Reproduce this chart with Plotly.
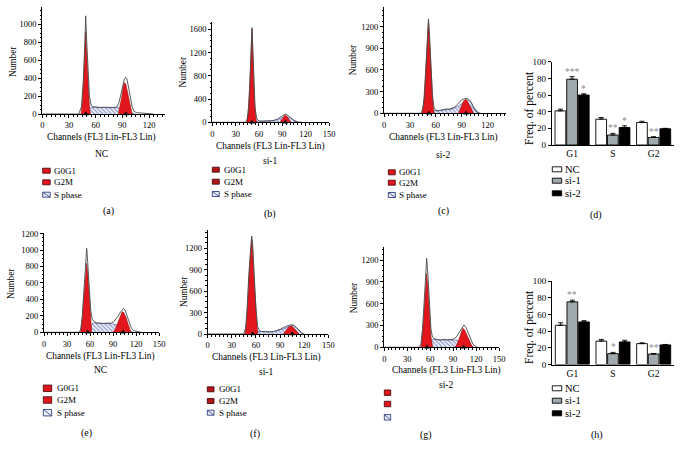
import plotly.graph_objects as go

W, H = 684, 457
SERIF = "Liberation Serif"

# ------------------------------------------------------------------ data
# (a) NC, first experiment
a_out_x = [0, 41, 44, 46, 47.5, 48.8, 50, 51.5, 53, 55, 57, 60, 65, 70, 75, 80, 84, 86, 88, 90, 92, 93.7, 95, 97, 99, 101, 103, 106, 110, 115, 120, 125]
a_out_y = [0, 0, 80, 350, 700, 1093, 800, 450, 200, 95, 80, 78, 72, 75, 70, 72, 80, 120, 200, 300, 380, 409, 395, 300, 180, 80, 30, 15, 12, 8, 3, 0]
a_g0_x = [43.5, 45, 46.5, 48, 48.8, 50, 51.5, 53, 54]
a_g0_y = [0, 120, 400, 760, 918, 650, 330, 90, 0]
a_g2_x = [85.5, 87, 89, 91, 92.3, 94, 96, 98, 100, 101]
a_g2_y = [0, 60, 170, 300, 350, 330, 240, 130, 30, 0]
a_s_x = [46, 50, 53, 56, 60, 70, 80, 85, 90, 95, 100, 104]
a_s_y = [0, 30, 60, 72, 75, 72, 72, 70, 55, 35, 10, 0]
a_peaks = [49, 94]

# (b) si-1, first experiment
b_out_x = [0, 43, 45, 47, 49, 50.5, 51, 52, 53.5, 55, 57, 59, 62, 66, 70, 75, 80, 84, 87, 90, 92, 94, 96, 98, 100, 103, 106, 110, 115]
b_out_y = [0, 0, 50, 300, 900, 1500, 1628, 1300, 700, 250, 70, 30, 20, 18, 20, 25, 35, 55, 85, 115, 135, 143, 130, 110, 80, 45, 20, 5, 0]
b_g0_x = [44, 46, 48, 50, 51, 52.5, 54, 56, 57]
b_g0_y = [0, 150, 600, 1350, 1600, 1000, 400, 80, 0]
b_g2_x = [87, 89, 91, 93.4, 95.5, 97.5, 99.5, 101]
b_g2_y = [0, 40, 95, 126, 110, 70, 25, 0]
b_s_x = [52, 56, 60, 66, 72, 78, 84, 88, 92, 96, 100, 104, 108, 111]
b_s_y = [0, 15, 20, 18, 22, 30, 50, 75, 90, 95, 75, 40, 12, 0]
b_peaks = [51, 94]

# (c) si-2, first experiment
c_out_x = [0, 43, 45, 47, 49, 50.5, 51.5, 52.5, 54, 56, 58, 60, 63, 66, 69, 72, 75, 78, 81, 84, 87, 90, 93, 95, 97, 99, 101, 103, 105, 108, 112]
c_out_y = [0, 0, 60, 250, 700, 1150, 1306, 1150, 650, 250, 80, 40, 35, 45, 55, 60, 55, 65, 80, 110, 150, 185, 200, 208, 200, 185, 150, 100, 55, 15, 0]
c_g0_x = [44, 46, 48, 50, 51.5, 53, 55, 57, 58]
c_g0_y = [0, 150, 550, 1050, 1260, 950, 420, 90, 0]
c_g2_x = [86.3, 88, 90, 92, 94, 95.2, 97, 99, 101, 103, 104]
c_g2_y = [0, 50, 110, 165, 190, 194, 160, 110, 55, 10, 0]
c_s_x = [50, 55, 58, 62, 66, 70, 74, 78, 82, 86, 90, 94, 98, 101, 104, 108, 110]
c_s_y = [0, 25, 35, 35, 45, 55, 55, 60, 75, 100, 130, 170, 185, 150, 80, 15, 0]
c_peaks = [52, 95]

# (e) NC, second experiment
e_out_x = [0, 46, 48, 50, 52, 54, 55.7, 57, 59, 61, 63, 65, 68, 72, 76, 80, 84, 88, 91, 94, 97, 100, 103.5, 106, 108, 111, 114, 117, 120, 123, 126]
e_out_y = [0, 0, 40, 200, 500, 850, 1020, 850, 500, 260, 160, 135, 115, 110, 108, 110, 108, 112, 130, 160, 200, 250, 291, 260, 200, 120, 50, 20, 12, 5, 0]
e_g0_x = [47.8, 50, 52, 54, 55.7, 57, 59, 61, 62.2]
e_g0_y = [0, 180, 430, 700, 838, 720, 420, 130, 0]
e_g2_x = [90.4, 93, 96, 99, 102, 104, 107, 110, 112, 113.5]
e_g2_y = [0, 40, 110, 190, 251, 240, 180, 90, 30, 0]
e_s_x = [55, 58, 61, 64, 70, 80, 88, 94, 100, 106, 112, 117]
e_s_y = [0, 40, 90, 115, 110, 108, 105, 90, 60, 35, 15, 0]
e_peaks = [57, 103]

# (f) si-1, second experiment
f_out_x = [0, 45, 47, 49, 51, 53, 54.7, 56, 58, 60, 62, 64, 67, 72, 77, 82, 87, 91, 95, 99, 102, 105, 108, 111, 114, 117, 120]
f_out_y = [0, 0, 80, 350, 800, 1200, 1372, 1250, 800, 350, 110, 50, 35, 30, 30, 35, 50, 70, 95, 115, 125, 130, 115, 80, 40, 15, 0]
f_g0_x = [46.4, 48, 50, 52, 54.7, 56, 58, 60, 62.2]
f_g0_y = [0, 120, 500, 950, 1340, 1150, 700, 280, 0]
f_g2_x = [94, 96, 99, 101, 103.2, 105, 108, 111, 113.5]
f_g2_y = [0, 30, 75, 100, 112, 105, 75, 35, 0]
f_s_x = [58, 62, 66, 72, 78, 84, 90, 96, 102, 106, 110, 114, 118]
f_s_y = [0, 30, 35, 30, 30, 38, 55, 80, 110, 120, 90, 40, 0]
f_peaks = [56, 105]

# (g) si-2, second experiment
g_out_x = [0, 46, 48, 50, 52, 54, 55.4, 57, 59, 61, 63, 66, 70, 74, 78, 82, 86, 90, 94, 97, 100, 104.2, 107, 110, 113, 116, 119, 122]
g_out_y = [0, 0, 50, 250, 600, 1000, 1223, 1000, 550, 250, 140, 115, 105, 100, 110, 100, 105, 110, 140, 190, 250, 307, 270, 190, 100, 40, 15, 0]
g_g0_x = [48, 50, 52, 54, 55.4, 57, 59, 61, 63.2]
g_g0_y = [0, 200, 500, 850, 1017, 830, 450, 150, 0]
g_g2_x = [92.5, 95, 98, 100, 102.5, 105, 108, 111, 114, 116.4]
g_g2_y = [0, 40, 120, 190, 261, 240, 170, 90, 30, 0]
g_s_x = [55, 58, 62, 66, 72, 80, 88, 94, 100, 106, 112, 118]
g_s_y = [0, 50, 100, 110, 100, 105, 105, 100, 70, 40, 15, 0]
g_peaks = [56, 104]

# bar charts
phases = ["G1", "S", "G2"]
groups = ["NC", "si-1", "si-2"]
d_nc = [41, 31, 27]
d_nc_err = [2, 2, 1.5]
d_si1 = [79, 12, 9]
d_si1_err = [3, 2, 1]
d_si2 = [60, 21, 19.5]
d_si2_err = [1.5, 2, 0.5]
d_si1_sig = ["***", "**", "**"]
d_si2_sig = ["*", "*", ""]

h_nc = [47, 28, 25]
h_nc_err = [3, 2, 1]
h_si1 = [75, 13, 12.5]
h_si1_err = [2, 1.5, 0.7]
h_si2 = [51, 27, 23.5]
h_si2_err = [1.5, 2, 0.5]
h_si1_sig = ["**", "*", "**"]
h_si2_sig = ["", "", ""]

legend_hist = ["G0G1", "G2M", "S phase"]

# ------------------------------------------------------------------ helpers
def px(x):
    return x / W


def py(y):
    return 1 - y / H


RED = "#e3161d"
RED_DARK = "#b3161a"
HATCH = "#3b4a9c"
SI1_GRAY = "#a0a9ae"

fig = go.Figure()
annotations = []
shapes = []
layout = {}


def text(x, y, s, size=9.5, angle=0, color="black", xanchor="center"):
    annotations.append(dict(
        x=px(x), y=py(y), xref="paper", yref="paper", text=s, showarrow=False,
        font=dict(family=SERIF, size=size, color=color), textangle=angle,
        xanchor=xanchor, yanchor="middle"))


def axis_common():
    return dict(showline=True, linecolor="black", linewidth=1, ticks="outside",
                ticklen=3, tickcolor="black", tickwidth=1, showgrid=False,
                zeroline=False, automargin=False,
                tickfont=dict(family=SERIF, size=8.5, color="black"))


hist_panels = [
    dict(n=1, box=(42.3, 6.7, 165, 114), xr=[0, 138], yr=[0, 1195], yd=200,
         data=(a_out_x, a_out_y, a_g0_x, a_g0_y, a_g2_x, a_g2_y, a_s_x, a_s_y, a_peaks),
         ch=(101.7, 137.7), grp=(101.7, 154.3, "NC"), lab=(108, 211, "(a)"), num=(12.3, 61.7),
         leg=(42.7, 7.5, 5, 51.7, [170.7, 182.3, 194.7], RED)),
    dict(n=2, box=(212.3, 21.7, 329, 122.3), xr=[0, 150], yr=[0, 1730], yd=400,
         data=(b_out_x, b_out_y, b_g0_x, b_g0_y, b_g2_x, b_g2_y, b_s_x, b_s_y, b_peaks),
         ch=(270, 146.7), grp=(270, 161.3, "si-1"), lab=(270, 214.3, "(b)"), num=(182.7, 71.7),
         leg=(212.3, 7, 5, 221.7, [169.7, 181.7, 194], RED_DARK)),
    dict(n=3, box=(384, 6.7, 505.7, 113.3), xr=[0, 141], yr=[0, 1476], yd=300,
         data=(c_out_x, c_out_y, c_g0_x, c_g0_y, c_g2_x, c_g2_y, c_s_x, c_s_y, c_peaks),
         ch=(443.3, 137.7), grp=(443.3, 155, "si-2"), lab=(443, 211, "(c)"), num=(353.3, 60),
         leg=(388.3, 7, 5, 397.3, [172.3, 182.7, 195], RED)),
    dict(n=5, box=(44, 233.3, 159, 332.3), xr=[0, 150], yr=[0, 1203], yd=200,
         data=(e_out_x, e_out_y, e_g0_x, e_g0_y, e_g2_x, e_g2_y, e_s_x, e_s_y, e_peaks),
         ch=(100, 356.7), grp=(100, 370, "NC"), lab=(86, 433.3, "(e)"), num=(11.7, 283.3),
         leg=(43.3, 8.4, 6.5, 55, [388.3, 400, 412.7], RED)),
    dict(n=6, box=(207.7, 230, 328.3, 334), xr=[0, 150], yr=[0, 1456], yd=300,
         data=(f_out_x, f_out_y, f_g0_x, f_g0_y, f_g2_x, f_g2_y, f_s_x, f_s_y, f_peaks),
         ch=(266.7, 357.3), grp=(266.7, 371.7, "si-1"), lab=(255, 434, "(f)"), num=(183.3, 291.7),
         leg=(207.3, 6.7, 5, 216.7, [389.3, 401, 412.7], RED_DARK)),
    dict(n=7, box=(384.3, 246.7, 499, 347.3), xr=[0, 150], yr=[0, 1383], yd=300,
         data=(g_out_x, g_out_y, g_g0_x, g_g0_y, g_g2_x, g_g2_y, g_s_x, g_s_y, g_peaks),
         ch=(446, 370.7), grp=(446, 385, "si-2"), lab=(426, 435, "(g)"), num=(354, 298.3),
         leg=(384.3, 6.4, 5.5, None, [392.7, 404, 417.3], RED)),
]

for p in hist_panels:
    n = p["n"]
    xa = "x" if n == 1 else f"x{n}"
    ya = "y" if n == 1 else f"y{n}"
    xk = "xaxis" if n == 1 else f"xaxis{n}"
    yk = "yaxis" if n == 1 else f"yaxis{n}"
    x0, y0, x1, y1 = p["box"]
    ox, oy, g0x, g0y, g2x, g2y, sx, sy, peaks = p["data"]

    fig.add_trace(go.Scatter(
        x=sx, y=sy, xaxis=xa, yaxis=ya, mode="lines", fill="tozeroy",
        line=dict(color=HATCH, width=0.6), fillcolor="white",
        fillpattern=dict(shape="\\", fgcolor=HATCH, bgcolor="#eef1fa", size=3, solidity=0.4),
        showlegend=False, hoverinfo="skip"))
    for gx, gy in ((g0x, g0y), (g2x, g2y)):
        fig.add_trace(go.Scatter(
            x=gx, y=gy, xaxis=xa, yaxis=ya, mode="lines", fill="tozeroy",
            line=dict(color="#9a1010", width=0.6), fillcolor=RED,
            showlegend=False, hoverinfo="skip"))
    fig.add_trace(go.Scatter(
        x=ox, y=oy, xaxis=xa, yaxis=ya, mode="lines",
        line=dict(color="#4a4a4a", width=0.9), showlegend=False, hoverinfo="skip"))
    fig.add_trace(go.Scatter(
        x=peaks, y=[0] * len(peaks), xaxis=xa, yaxis=ya, mode="markers",
        marker=dict(symbol="triangle-up", size=5, color="black"),
        cliponaxis=False, showlegend=False, hoverinfo="skip"))

    xd = axis_common()
    xd.update(domain=[px(x0), px(x1)], range=p["xr"], dtick=30, anchor=ya,
              minor=dict(dtick=5, ticklen=1.5, tickcolor="black", ticks="outside"))
    yd = axis_common()
    yd.update(domain=[py(y1), py(y0)], range=p["yr"], dtick=p["yd"], anchor=xa,
              minor=dict(dtick=p["yd"] / 4, ticklen=1.5, tickcolor="black", ticks="outside"))
    layout[xk] = xd
    layout[yk] = yd

    text(p["ch"][0], p["ch"][1], "Channels (FL3 Lin-FL3 Lin)", 9.4)
    text(p["grp"][0], p["grp"][1], p["grp"][2], 9.5)
    text(p["lab"][0], p["lab"][1], p["lab"][2], 10)
    text(p["num"][0], p["num"][1], "Number", 9.3, angle=-90)

    lx, lw, lh, tx, rows, red = p["leg"]
    for i, ry in enumerate(rows):
        if i < 2:
            shapes.append(dict(type="rect", xref="paper", yref="paper",
                               x0=px(lx), x1=px(lx + lw), y0=py(ry + lh / 2), y1=py(ry - lh / 2),
                               fillcolor=red, line=dict(color="#3a0000", width=0.8)))
        else:
            shapes.append(dict(type="rect", xref="paper", yref="paper",
                               x0=px(lx), x1=px(lx + lw), y0=py(ry + lh / 2), y1=py(ry - lh / 2),
                               fillcolor="#e8ecf8", line=dict(color="#1a2a70", width=0.8)))
            shapes.append(dict(type="line", xref="paper", yref="paper",
                               x0=px(lx), x1=px(lx + lw), y0=py(ry - lh / 2), y1=py(ry + lh / 2),
                               line=dict(color="#1a2a70", width=0.7)))
        if tx is not None:
            text(tx, ry, legend_hist[i], 9, xanchor="left")

# ---------------- bar charts
bar_panels = [
    dict(n=4, box=(551.7, 61.7, 674, 145),
         vals=((d_nc, d_nc_err), (d_si1, d_si1_err), (d_si2, d_si2_err)),
         sig=(None, d_si1_sig, d_si2_sig), freq=(529, 108), lab=(596, 215, "(d)"),
         leg=(169.3, 180.7, 193.3)),
    dict(n=8, box=(552, 281, 674, 364.5),
         vals=((h_nc, h_nc_err), (h_si1, h_si1_err), (h_si2, h_si2_err)),
         sig=(None, h_si1_sig, h_si2_sig), freq=(529, 327), lab=(597, 435, "(h)"),
         leg=(388.3, 400.7, 413.3)),
]
BARGAP = 0.14
bar_colors = ["white", SI1_GRAY, "black"]
for p in bar_panels:
    n = p["n"]
    xa, ya = f"x{n}", f"y{n}"
    x0, y0, x1, y1 = p["box"]
    for k, ((vals, errs), col) in enumerate(zip(p["vals"], bar_colors)):
        fig.add_trace(go.Bar(
            x=phases, y=vals, xaxis=xa, yaxis=ya, name=groups[k],
            marker=dict(color=col, line=dict(color="black", width=0.9)),
            error_y=dict(type="data", array=errs, arrayminus=[0] * len(errs),
                         color="black", thickness=0.9, width=2.5),
            showlegend=False, hoverinfo="skip"))
        sig = p["sig"][k]
        if sig:
            bw = (1 - BARGAP) / 3
            for i, s in enumerate(sig):
                if s:
                    annotations.append(dict(
                        x=i + (k - 1) * bw, y=vals[i] + errs[i], xref=xa, yref=ya,
                        text=s, showarrow=False, yanchor="bottom", yshift=-2,
                        font=dict(family=SERIF, size=9.5, color="#8a8a8a")))
    xd = dict(showline=True, linecolor="black", linewidth=1, ticks="", showgrid=False,
              zeroline=False, automargin=False, domain=[px(x0), px(x1)], anchor=ya,
              categoryorder="array", categoryarray=phases, range=[-0.5, 2.5],
              tickfont=dict(family=SERIF, size=9.5, color="black"))
    yd = axis_common()
    yd.update(domain=[py(y1), py(y0)], range=[0, 100], dtick=20, anchor=xa,
              tickfont=dict(family=SERIF, size=9, color="black"))
    layout[f"xaxis{n}"] = xd
    layout[f"yaxis{n}"] = yd

    text(p["freq"][0], p["freq"][1], "Freq. of percent", 11.5, angle=-90)
    text(p["lab"][0], p["lab"][1], p["lab"][2], 10)
    for k, ry in enumerate(p["leg"]):
        shapes.append(dict(type="rect", xref="paper", yref="paper",
                           x0=px(552.3), x1=px(561.7), y0=py(ry + 2.5), y1=py(ry - 2.5),
                           fillcolor=bar_colors[k], line=dict(color="black", width=0.9)))
        text(563.3, ry, groups[k], 10.5, xanchor="left")

fig.update_layout(
    width=W, height=H, margin=dict(l=0, r=0, t=0, b=0, autoexpand=False),
    paper_bgcolor="white", plot_bgcolor="white",
    barmode="group", bargap=BARGAP, bargroupgap=0.08,
    showlegend=False, annotations=annotations, shapes=shapes,
    font=dict(family=SERIF, color="black"),
    **layout)

fig.write_html(
    "out.html",
    config={"displayModeBar": False},
    post_script="document.body.style.margin='0';document.body.style.padding='0';"
                "document.documentElement.style.overflow='hidden';")
